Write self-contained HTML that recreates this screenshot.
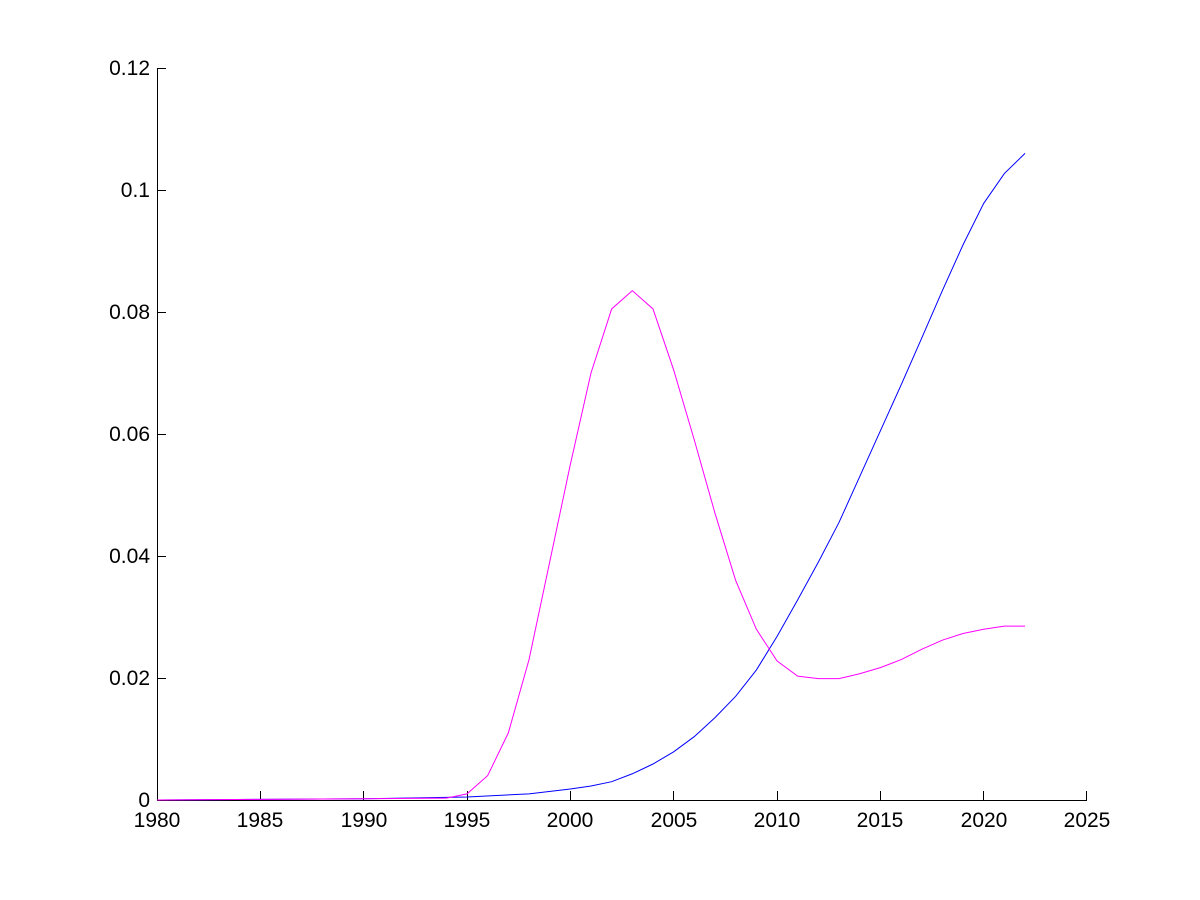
<!DOCTYPE html>
<html><head><meta charset="utf-8"><style>
html,body{margin:0;padding:0;background:#fff;}
svg{display:block;}
text{font-family:"Liberation Sans",sans-serif;font-size:21px;fill:#000;}
</style></head><body>
<svg width="1200" height="900" viewBox="0 0 1200 900" xmlns="http://www.w3.org/2000/svg">
<rect width="1200" height="900" fill="#fff"/>
<g stroke="#000" stroke-width="1" fill="none" shape-rendering="crispEdges">
<line x1="157.5" y1="68" x2="157.5" y2="800.5"/>
<line x1="157" y1="800.5" x2="1087" y2="800.5"/>
<line x1="157" y1="678.5" x2="166" y2="678.5"/>
<line x1="157" y1="556.5" x2="166" y2="556.5"/>
<line x1="157" y1="434.5" x2="166" y2="434.5"/>
<line x1="157" y1="312.5" x2="166" y2="312.5"/>
<line x1="157" y1="190.5" x2="166" y2="190.5"/>
<line x1="157" y1="68.5" x2="166" y2="68.5"/>
<line x1="260.5" y1="800" x2="260.5" y2="791"/>
<line x1="363.5" y1="800" x2="363.5" y2="791"/>
<line x1="467.5" y1="800" x2="467.5" y2="791"/>
<line x1="570.5" y1="800" x2="570.5" y2="791"/>
<line x1="673.5" y1="800" x2="673.5" y2="791"/>
<line x1="777.5" y1="800" x2="777.5" y2="791"/>
<line x1="880.5" y1="800" x2="880.5" y2="791"/>
<line x1="983.5" y1="800" x2="983.5" y2="791"/>
<line x1="1086.5" y1="800" x2="1086.5" y2="791"/>
</g>
<g text-anchor="end">
<text x="150" y="807">0</text>
<text x="150" y="685">0.02</text>
<text x="150" y="563">0.04</text>
<text x="150" y="441">0.06</text>
<text x="150" y="319">0.08</text>
<text x="150" y="197">0.1</text>
<text x="150" y="75">0.12</text>
</g>
<g text-anchor="middle">
<text x="157" y="827">1980</text>
<text x="260" y="827">1985</text>
<text x="364" y="827">1990</text>
<text x="467" y="827">1995</text>
<text x="570" y="827">2000</text>
<text x="674" y="827">2005</text>
<text x="777" y="827">2010</text>
<text x="880" y="827">2015</text>
<text x="984" y="827">2020</text>
<text x="1087" y="827">2025</text>
</g>
<g transform="translate(157,800) scale(20.6667,-6100)" fill="none">
<polyline vector-effect="non-scaling-stroke" stroke="#0000ff" stroke-width="1"
points="0,0 5,0.0001 10,0.0002 15,0.0005 18,0.001 20,0.0018 21,0.0023 22,0.003 23,0.0043 24,0.0059 25,0.0079 26,0.0104 27,0.0135 28,0.017 29,0.0213 30,0.0268 31,0.0328 32,0.039 33,0.0455 34,0.053 35,0.0605 36,0.068 37,0.0757 38,0.0835 39,0.091 40,0.0978 41,0.1027 42,0.106"/>
<polyline vector-effect="non-scaling-stroke" stroke="#ff00ff" stroke-width="1"
points="0,0 5,0.0001 10,0.0002 14,0.0003 15,0.001 16,0.004 17,0.011 18,0.023 19,0.039 20,0.055 21,0.070 22,0.0805 23,0.0835 24,0.0805 25,0.0705 26,0.0590 27,0.047 28,0.036 29,0.028 30,0.0228 31,0.0203 32,0.0199 33,0.0199 34,0.0207 35,0.0217 36,0.023 37,0.0247 38,0.0262 39,0.0273 40,0.028 41,0.0285 42,0.0285"/>
</g>
</svg>
</body></html>
